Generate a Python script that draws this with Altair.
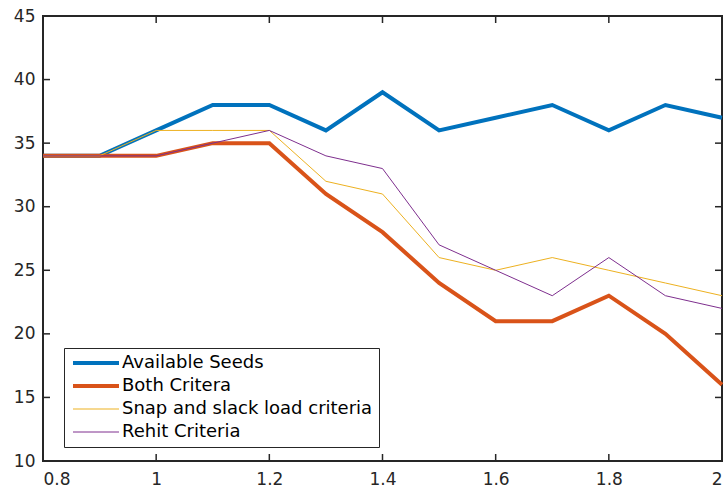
import altair as alt
import pandas as pd

x_vals = [0.8, 0.9, 1.0, 1.1, 1.2, 1.3, 1.4, 1.5, 1.6, 1.7, 1.8, 1.9, 2.0]
available = [34, 34, 36, 38, 38, 36, 39, 36, 37, 38, 36, 38, 37]
both = [34, 34, 34, 35, 35, 31, 28, 24, 21, 21, 23, 20, 16]
snap = [34, 34, 36, 36, 36, 32, 31, 26, 25, 26, 25, 24, 23]
rehit = [34, 34, 34, 35, 36, 34, 33, 27, 25, 23, 26, 23, 22]

series_names = ["Available Seeds", "Both Critera", "Snap and slack load criteria", "Rehit Criteria"]
series_vals = [available, both, snap, rehit]
colors = ["#0072BD", "#D95319", "#EDB120", "#7E2F8E"]
widths = [4, 4, 1, 1]
x_ticks = [0.8, 1.0, 1.2, 1.4, 1.6, 1.8, 2.0]
y_ticks = [10, 15, 20, 25, 30, 35, 40, 45]

rows = []
for i, (name, vals) in enumerate(zip(series_names, series_vals)):
    for xv, yv in zip(x_vals, vals):
        rows.append({"x": xv, "y": yv, "series": name, "order": i, "w": widths[i]})
df = pd.DataFrame(rows)
xt = pd.DataFrame({"x": x_ticks})
yt = pd.DataFrame({"y": y_ticks})

FONT = "DejaVu Sans"
AX = "#262626"
TICK = 7
W, H = 679, 445

xscale = alt.Scale(domain=[0.8, 2.0], nice=False, zero=False)
yscale = alt.Scale(domain=[10, 45], nice=False, zero=False)
xaxis = alt.Axis(values=x_ticks, format="~g", title=None, domain=False, ticks=False,
                 tickSize=0, labelPadding=10)
yaxis = alt.Axis(values=y_ticks, title=None, domain=False, ticks=False, tickSize=0,
                 labelPadding=8)

thick = "['Available Seeds','Both Critera']"
legend = alt.Legend(
    title=None, orient="none", legendX=21, legendY=332,
    symbolType="M-2.3,0H2.3", symbolSize=400, symbolFillColor="transparent",
    symbolStrokeWidth=alt.ExprRef(f"indexof({thick}, datum.value) >= 0 ? 4 : 1"),
    labelFont=FONT, labelFontSize=18, labelColor="#000000",
    strokeColor="#262626", fillColor="white",
    padding=6, rowPadding=5, labelOffset=17, symbolOffset=17, labelLimit=400,
)

main = alt.Chart(df).mark_line(strokeJoin="miter").encode(
    x=alt.X("x:Q", scale=xscale, axis=xaxis),
    y=alt.Y("y:Q", scale=yscale, axis=yaxis),
    color=alt.Color("series:N", sort=series_names,
                    scale=alt.Scale(domain=series_names, range=colors),
                    legend=legend),
    strokeWidth=alt.StrokeWidth("w:Q", scale=None, legend=None),
    order=alt.Order("order:Q"),
)

rule = dict(color=AX, strokeWidth=1.5)
tick_bottom = alt.Chart(xt).mark_rule(**rule).encode(
    x=alt.X("x:Q", scale=xscale, axis=xaxis), y=alt.value(H), y2=alt.value(H - TICK))
tick_top = alt.Chart(xt).mark_rule(**rule).encode(
    x=alt.X("x:Q", scale=xscale, axis=xaxis), y=alt.value(0), y2=alt.value(TICK))
tick_left = alt.Chart(yt).mark_rule(**rule).encode(
    y=alt.Y("y:Q", scale=yscale, axis=yaxis), x=alt.value(0), x2=alt.value(TICK))
tick_right = alt.Chart(yt).mark_rule(**rule).encode(
    y=alt.Y("y:Q", scale=yscale, axis=yaxis), x=alt.value(W), x2=alt.value(W - TICK))

chart = alt.layer(main, tick_bottom, tick_top, tick_left, tick_right).properties(
    width=W, height=H,
    autosize=alt.AutoSizeParams(type="none"),
    padding={"left": 43, "top": 16, "right": 6, "bottom": 27},
).configure_view(stroke=AX, strokeWidth=2).configure_axis(
    labelFont=FONT, labelFontSize=17, labelColor=AX, grid=False,
)

chart.save("out.html", embed_options={"renderer": "svg", "actions": False})
